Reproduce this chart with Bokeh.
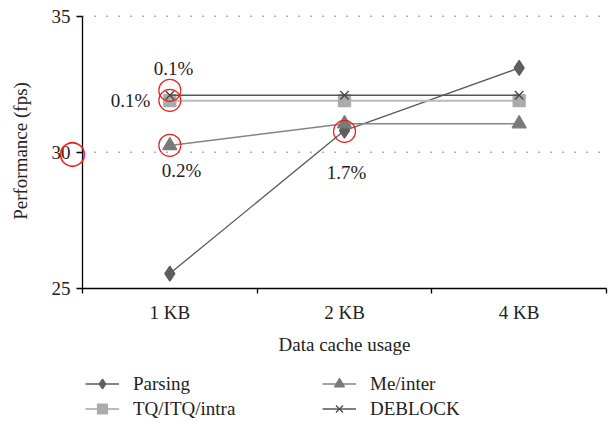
from bokeh.plotting import figure
from bokeh.models import (Range1d, FixedTicker, Legend, LegendItem, LinearAxis)
from bokeh.layouts import column
from bokeh.core.properties import value
from bokeh.embed import file_html
from bokeh.resources import INLINE

categories = ["1 KB", "2 KB", "4 KB"]
parsing = [25.55, 30.8, 33.1]
tq_itq_intra = [31.9, 31.9, 31.9]
me_inter = [30.25, 31.05, 31.05]
deblock = [32.1, 32.1, 32.1]
y_ticks = [25, 30, 35]
grid_values = [30, 35]
series_names = ["Parsing", "TQ/ITQ/intra", "Me/inter", "DEBLOCK"]

# highlighted points (category index, value) and annotation labels
hl_cat = [0, 0, 0, 1]
hl_val = [32.28, 31.91, 30.26, 30.77]
ann_cat = [0, 0, 0, 1]
ann_val = [33.09, 31.91, 29.34, 29.26]
ann_text = ["0.1%", "0.1%", "0.2%", "1.7%"]
ann_dx = [0.021, -0.225, 0.067, 0.011]
axis_mark_val = 30

FONT = "Liberation Serif"
FS = "19px"
TXT = "#222222"
RED = "#e8231f"
xs = [i + 0.5 for i in range(len(categories))]
n = len(categories)

Y0, Y1 = 25, 35.1
p = figure(width=612, height=360, output_backend="svg", toolbar_location=None,
           x_range=Range1d(0, n), y_range=Range1d(Y0, Y1),
           min_border_left=82, min_border_right=6, min_border_top=13, min_border_bottom=72)
p.outline_line_color = None
p.background_fill_color = "white"

# axes
p.xaxis.ticker = FixedTicker(ticks=xs, minor_ticks=list(range(n + 1)))
p.xaxis.major_label_overrides = {x: c for x, c in zip(xs, categories)}
p.xaxis.major_tick_line_color = None
p.xaxis.minor_tick_line_color = "black"
p.xaxis.minor_tick_out = 5
p.xaxis.minor_tick_in = 0
p.xaxis.axis_label = "Data cache usage"
p.yaxis.ticker = FixedTicker(ticks=y_ticks)
p.yaxis.bounds = (y_ticks[0], y_ticks[-1])
p.yaxis.minor_tick_line_color = None
p.yaxis.major_tick_out = 6
p.yaxis.major_tick_in = 0
p.yaxis.axis_label = "Performance (fps)"
for ax in (p.xaxis[0], p.yaxis[0]):
    ax.axis_line_color = "black"
    ax.axis_line_width = 1.3
    ax.major_tick_line_width = 1.3
    ax.minor_tick_line_width = 1.3
    ax.major_label_text_font = FONT
    ax.major_label_text_font_size = FS
    ax.major_label_text_color = TXT
    ax.axis_label_text_font = FONT
    ax.axis_label_text_font_size = FS
    ax.axis_label_text_font_style = "normal"
    ax.axis_label_text_color = TXT
p.xaxis.major_label_standoff = 7
p.xaxis.axis_label_standoff = 8
p.yaxis.major_label_standoff = 6
p.yaxis.axis_label_standoff = 18
p.grid.visible = False

# red circle marking the 30 fps level on the axis (drawn as an extra label-only axis)
mark_axis = LinearAxis(ticker=FixedTicker(ticks=[axis_mark_val]),
                       major_label_overrides={axis_mark_val: "\u25ef"},
                       axis_line_color=None, major_tick_line_color=None,
                       minor_tick_line_color=None, major_tick_out=0, major_tick_in=0,
                       minor_tick_out=0, minor_tick_in=0,
                       major_label_text_color=RED, major_label_text_font="DejaVu Sans",
                       major_label_text_font_size="25px", major_label_standoff=-80)
p.add_layout(mark_axis, "left")

# dotted horizontal reference lines
p.segment(x0=[0] * len(grid_values), x1=[n] * len(grid_values), y0=grid_values, y1=grid_values,
          line_color="#666666", line_dash="1 11", line_width=1.5)

# styles per series
line_colors = ["#5a5a5a", "#bbbbbb", "#858585", "#555555"]
line_widths = [1.3, 2, 1.6, 1.6]
markers = ["diamond", "square", "triangle", "x"]
marker_colors = ["#5e5e5e", "#ababab", "#7a7a7a", "#444444"]
marker_sizes = [15, 12, 14, 12]
legend_marker_sizes = [9, 8, 8, 7]

for vals, lc, lw, mk, mc, ms in zip([parsing, tq_itq_intra, me_inter, deblock],
                                    line_colors, line_widths, markers, marker_colors, marker_sizes):
    p.line(xs, vals, line_color=lc, line_width=lw)
    p.scatter(xs, vals, marker=mk, size=ms, fill_color=mc, line_color=mc, line_width=1.3)

# highlights
p.scatter([xs[i] for i in hl_cat], hl_val, marker="circle", size=22,
          fill_color=None, line_color=RED, line_width=1.2)
p.text([xs[c] + dx for c, dx in zip(ann_cat, ann_dx)], ann_val, text=ann_text,
       text_font=value(FONT), text_font_size=FS, text_color=TXT,
       text_align="center", text_baseline="middle")

# legend panel
lp = figure(width=612, height=61, output_backend="svg", toolbar_location=None,
            x_range=Range1d(0, 1), y_range=Range1d(0, 1),
            min_border_left=0, min_border_right=0, min_border_top=0, min_border_bottom=0)
lp.axis.visible = False
lp.grid.visible = False
lp.outline_line_color = None

items = {}
for name, lc, lw, mk, mc, ms in zip(series_names, line_colors, line_widths, markers,
                                    marker_colors, legend_marker_sizes):
    # key glyphs placed outside the visible range; only used to draw legend keys
    r_l = lp.line([-5, -4], [-5, -4], line_color=lc, line_width=lw)
    r_m = lp.scatter([-5], [-5], marker=mk, size=ms, fill_color=mc, line_color=mc, line_width=1.2)
    items[name] = LegendItem(label=name, renderers=[r_l, r_m])

legend = Legend(items=[items["Parsing"], items["Me/inter"], items["TQ/ITQ/intra"], items["DEBLOCK"]],
                orientation="horizontal", ncols=2, location=(3, 0))
legend.glyph_width = 34
legend.glyph_height = 25
legend.label_height = 25
legend.label_width = 189
legend.label_standoff = 14
legend.spacing = 0
legend.label_text_font = FONT
legend.label_text_font_size = FS
legend.label_text_color = TXT
legend.label_text_baseline = "middle"
legend.border_line_color = None
legend.background_fill_alpha = 0
legend.padding = 0
legend.margin = 0
lp.add_layout(legend)

layout = column(p, lp, spacing=0)
open("out.html", "w").write(file_html(layout, INLINE))
